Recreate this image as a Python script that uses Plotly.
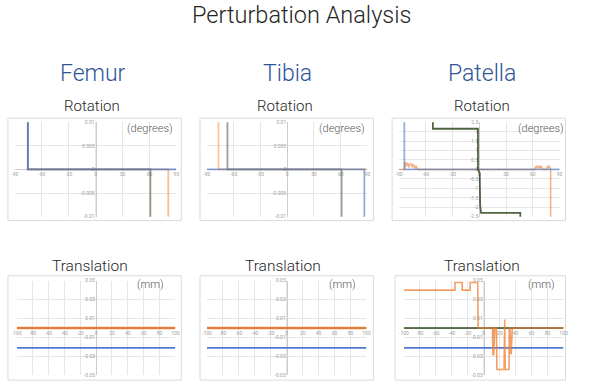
import plotly.graph_objects as go

# ---------------- data ----------------
title_text = "Perturbation Analysis"
bones = ["Femur", "Tibia", "Patella"]
row_titles = ["Rotation", "Translation"]
units = ["(degrees)", "(mm)"]

rot_xticks = [-90, -60, -30, 0, 30, 60, 90]
rot_yticks = [-0.01, -0.005, 0, 0.005, 0.01]
rot_yticktext = ["-0.01", "-0.005", "0", "0.005", "0.01"]
pat_rot_yticks = [-2.5, -2, -1.5, -1, -0.5, 0, 0.5, 1, 1.5, 2, 2.5]
pat_rot_yticktext = ["-2.5", "-2", "-1.5", "-1", "-0.5", "0", "0.5", "1", "1.5", "2", "2.5"]
tr_xticks = [-100, -80, -60, -40, -20, 0, 20, 40, 60, 80, 100]
tr_yticks = [-0.05, -0.03, -0.01, 0.01, 0.03, 0.05]
tr_yticktext = ["-0.05", "-0.03", "-0.01", "0.01", "0.03", "0.05"]

# Femur rotation
fem_rot_blue_x = [-75.5, -75.5, 90]
fem_rot_blue_y = [1, 0, 0]
fem_rot_orange_x = [-77, 81, 81]
fem_rot_orange_y = [0, 0, -1]
fem_rot_green_x = [-75.5, -75.5, 61, 61]
fem_rot_green_y = [1, 0, 0, -1]

# Tibia rotation
tib_rot_blue_x = [-90, 86.5, 86.5]
tib_rot_blue_y = [0, 0, -1]
tib_rot_orange_x = [-77, -77, 90]
tib_rot_orange_y = [1, 0, 0]
tib_rot_green_x = [-67, -67, 61, 61]
tib_rot_green_y = [1, 0, 0, -1]

# Patella rotation
pat_rot_blue_x = [-84, -84, 90]
pat_rot_blue_y = [5, 0, 0]
pat_rot_orange_x = [-90, -84, -83, -82, -81, -80, -79, -78, -77, -76, -75, -74, -73, -72, -71, -70, -69,
                    62, 63, 64, 65, 66, 67, 68, 69, 70, 71, 75, 77, 78, 79, 80, 80]
pat_rot_orange_y = [0, 0, 0.4, 0.15, 0.35, 0.3, 0.1, 0.3, 0.25, 0.3, 0.1, 0.25, 0.2, 0.05, 0.2, 0.1, 0,
                    0, 0.15, 0.05, 0.2, 0.1, 0.15, 0.05, 0.2, 0.1, 0, 0, 0.2, 0.1, 0.15, 0, -5]
pat_rot_green_x = [-52, -52, -1.5, -1.5, 0.5, 1, 2, 46, 46]
pat_rot_green_y = [5, 2.15, 2.15, 0, -0.2, -1.9, -2.3, -2.3, -5]

# Femur / Tibia translation
fem_tr_blue_x = [-100, 100]
fem_tr_blue_y = [-0.021, -0.021]
fem_tr_green_x = [-100, 100]
fem_tr_green_y = [0, 0]
fem_tr_orange_x = [-100, 100]
fem_tr_orange_y = [0, 0]
tib_tr_blue_x = [-100, 100]
tib_tr_blue_y = [-0.021, -0.021]
tib_tr_green_x = [-100, 100]
tib_tr_green_y = [0, 0]
tib_tr_orange_x = [-100, 100]
tib_tr_orange_y = [0, 0]

# Patella translation
pat_tr_blue_x = [-100, 100]
pat_tr_blue_y = [-0.021, -0.021]
pat_tr_green_x = [-100, 100]
pat_tr_green_y = [0, 0]
pat_tr_orange_x = [-100, -36, -36, -27, -27, -17, -17, -7.5, -7, 11, 11.5, 12, 12.5, 13, 14, 16, 16.5,
                   25.5, 26.3, 27, 31.7, 32, 33, 33.7, 34.5, 35.8, 100]
pat_tr_orange_y = [0.04, 0.04, 0.048, 0.048, 0.04, 0.04, 0.048, 0.048, 0, 0, -0.029, 0, -0.029, -0.01, 0,
                   0, -0.044, -0.044, 0.009, -0.044, -0.044, 0, 0, -0.027, -0.027, 0, 0]

# ---------------- styling / layout ----------------
W, H = 600, 392
BLUE = "#4472C4"
BLUE_T = "#5279D2"
ORANGE = "#ED7D31"
GREEN = "#2F4A22"
GRID = "#E6E6E6"
AXLINE = "#CCCCCC"
TICKC = "#A0A0A0"
FONT = "Roboto"

def fx(p):
    return p / W

def fy(p):
    return 1 - p / H

panels = [
    dict(x=(10, 174), y=(121, 217), xr=[-90, 90], yr=[-0.01, 0.01], xt=rot_xticks, yt=rot_yticks, ytt=rot_yticktext,
         s=[(fem_rot_green_x, fem_rot_green_y, GREEN, 0.55, 1.8), (fem_rot_orange_x, fem_rot_orange_y, ORANGE, 0.5, 1.8),
            (fem_rot_blue_x, fem_rot_blue_y, BLUE, 0.7, 1.8)],
         unit=units[0], ux=173, uy=127, b=(3, 117, 179, 221)),
    dict(x=(205, 368), y=(121, 217), xr=[-90, 90], yr=[-0.01, 0.01], xt=rot_xticks, yt=rot_yticks, ytt=rot_yticktext,
         s=[(tib_rot_green_x, tib_rot_green_y, GREEN, 0.5, 1.8), (tib_rot_orange_x, tib_rot_orange_y, ORANGE, 0.45, 1.8),
            (tib_rot_blue_x, tib_rot_blue_y, BLUE, 0.6, 1.8)],
         unit=units[0], ux=368, uy=127, b=(198, 117, 374, 221)),
    dict(x=(400, 563), y=(121, 217), xr=[-90, 90], yr=[-2.5, 2.5], xt=rot_xticks, yt=pat_rot_yticks, ytt=pat_rot_yticktext,
         s=[(pat_rot_orange_x, pat_rot_orange_y, ORANGE, 0.6, 1.5), (pat_rot_blue_x, pat_rot_blue_y, BLUE, 0.55, 1.8),
            (pat_rot_green_x, pat_rot_green_y, GREEN, 0.85, 1.8)],
         unit=units[0], ux=570, uy=127, b=(393, 117, 569, 221)),
    dict(x=(12, 173), y=(282, 378), xr=[-100, 100], yr=[-0.05, 0.05], xt=tr_xticks, yt=tr_yticks, ytt=tr_yticktext,
         s=[(fem_tr_blue_x, fem_tr_blue_y, BLUE_T, 1.0, 1.8), (fem_tr_green_x, fem_tr_green_y, GREEN, 0.6, 2),
            (fem_tr_orange_x, fem_tr_orange_y, ORANGE, 0.9, 2.5)],
         unit=units[1], ux=163, uy=286, b=(3, 277, 179, 383)),
    dict(x=(205, 367), y=(282, 378), xr=[-100, 100], yr=[-0.05, 0.05], xt=tr_xticks, yt=tr_yticks, ytt=tr_yticktext,
         s=[(tib_tr_blue_x, tib_tr_blue_y, BLUE_T, 1.0, 1.8), (tib_tr_green_x, tib_tr_green_y, GREEN, 0.6, 2),
            (tib_tr_orange_x, tib_tr_orange_y, ORANGE, 0.9, 2.5)],
         unit=units[1], ux=358, uy=286, b=(198, 277, 374, 383)),
    dict(x=(405, 567), y=(282, 378), xr=[-100, 100], yr=[-0.05, 0.05], xt=tr_xticks, yt=tr_yticks, ytt=tr_yticktext,
         s=[(pat_tr_blue_x, pat_tr_blue_y, BLUE_T, 1.0, 1.8), (pat_tr_green_x, pat_tr_green_y, GREEN, 0.75, 2),
            (pat_tr_orange_x, pat_tr_orange_y, ORANGE, 0.75, 1.6)],
         unit=units[1], ux=560, uy=286, b=(396, 277, 569, 383)),
]

fig = go.Figure()
layout = dict(
    width=W, height=H, margin=dict(l=0, r=0, t=0, b=0),
    paper_bgcolor="white", plot_bgcolor="white", showlegend=False,
    font=dict(family=FONT), hovermode=False,
)
shapes = []
annotations = []

for i, p in enumerate(panels):
    k = "" if i == 0 else str(i + 1)
    xd = [fx(p["x"][0]), fx(p["x"][1])]
    yd = [fy(p["y"][1]), fy(p["y"][0])]
    for sx, sy, col, op, w in p["s"]:
        fig.add_trace(go.Scatter(x=sx, y=sy, mode="lines", xaxis="x" + k, yaxis="y" + k,
                                 line=dict(color=col, width=w), opacity=op, hoverinfo="skip"))
    layout["xaxis" + k] = dict(
        domain=xd, range=p["xr"], anchor="free", position=(yd[0] + yd[1]) / 2,
        tickmode="array", tickvals=p["xt"], ticktext=[str(v) for v in p["xt"]],
        showgrid=True, gridcolor=GRID, gridwidth=1, zeroline=False,
        showline=True, linecolor=AXLINE, linewidth=1, ticks="",
        tickfont=dict(size=5, color=TICKC), fixedrange=True, layer="below traces",
    )
    layout["yaxis" + k] = dict(
        domain=yd, range=p["yr"], anchor="free", position=(xd[0] + xd[1]) / 2,
        tickmode="array", tickvals=p["yt"], ticktext=p["ytt"],
        showgrid=True, gridcolor=GRID, gridwidth=1, zeroline=False,
        showline=True, linecolor=AXLINE, linewidth=1, ticks="",
        tickfont=dict(size=5, color=TICKC), fixedrange=True, layer="below traces",
    )
    b = p["b"]
    shapes.append(dict(type="rect", xref="paper", yref="paper",
                       x0=fx(b[0]), x1=fx(b[2]), y0=fy(b[3]), y1=fy(b[1]),
                       line=dict(color="#DADADA", width=1), layer="below"))
    annotations.append(dict(text=p["unit"], xref="paper", yref="paper", x=fx(p["ux"]), y=fy(p["uy"]),
                            xanchor="right", yanchor="middle", showarrow=False,
                            font=dict(size=11, color="#595959", family=FONT, weight=300)))

annotations.append(dict(text=title_text, xref="paper", yref="paper", x=fx(301), y=fy(12),
                        xanchor="center", yanchor="middle", showarrow=False,
                        font=dict(size=23.5, color="#262626", family=FONT, weight=300)))
for name, cx in zip(bones, [89, 287, 484]):
    annotations.append(dict(text=name, xref="paper", yref="paper", x=fx(cx), y=fy(72),
                            xanchor="center", yanchor="middle", showarrow=False,
                            font=dict(size=23, color="#2F5597", family=FONT, weight=300)))
for cx in [88, 284, 484]:
    annotations.append(dict(text=row_titles[0], xref="paper", yref="paper", x=fx(cx), y=fy(105),
                            xanchor="center", yanchor="middle", showarrow=False,
                            font=dict(size=15, color="#262626", family=FONT, weight=300)))
for cx in [86, 282, 484]:
    annotations.append(dict(text=row_titles[1], xref="paper", yref="paper", x=fx(cx), y=fy(267),
                            xanchor="center", yanchor="middle", showarrow=False,
                            font=dict(size=15.5, color="#262626", family=FONT, weight=300)))

layout["shapes"] = shapes
layout["annotations"] = annotations
fig.update_layout(**layout)
fig.write_html("out.html", config={"displayModeBar": False, "staticPlot": True},
               post_script="document.body.style.margin='0';document.body.style.overflow='hidden';")
